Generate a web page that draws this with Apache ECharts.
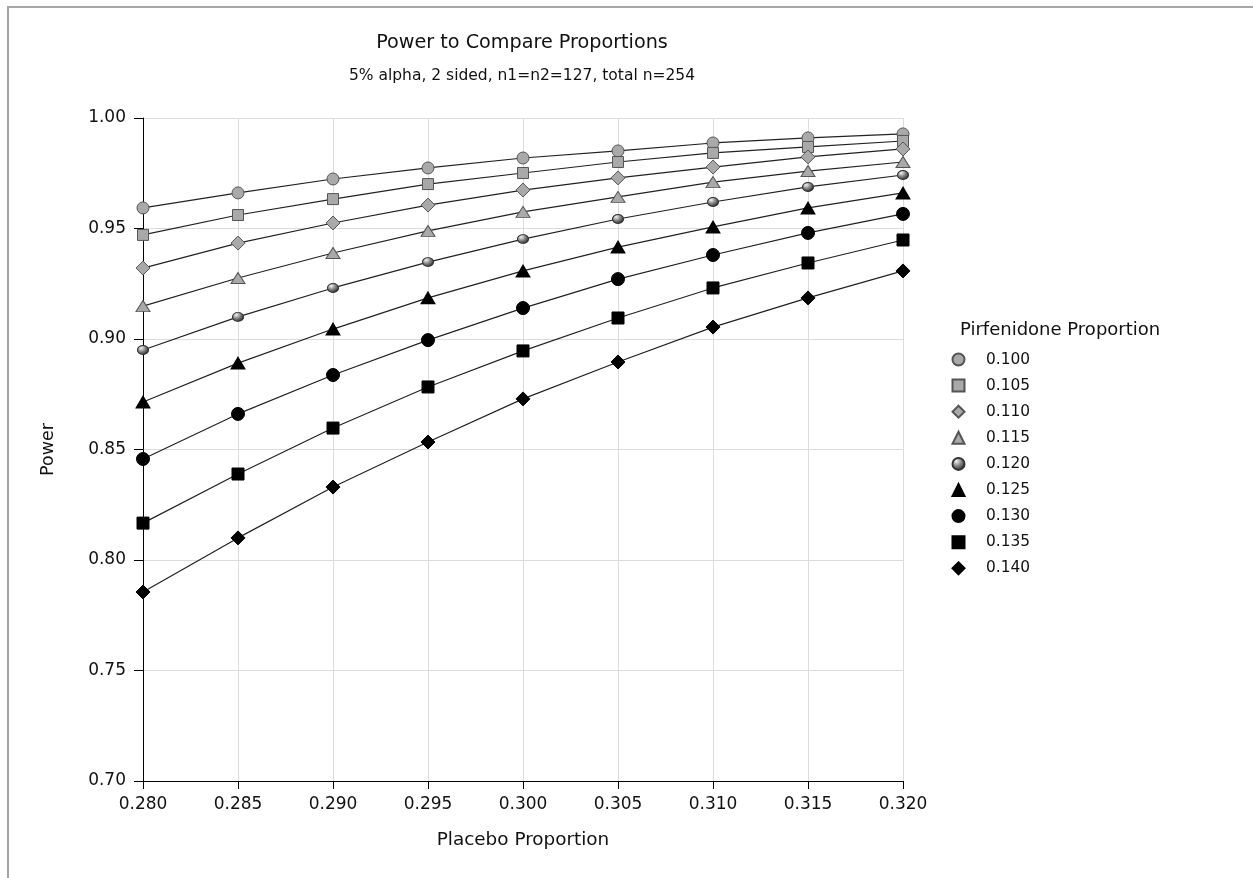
<!DOCTYPE html>
<html>
<head>
<meta charset="utf-8">
<title>Power to Compare Proportions</title>
<script src="https://cdn.jsdelivr.net/npm/echarts@6/dist/echarts.min.js"></script>
<style>
  html, body {
    margin: 0;
    padding: 0;
    background: #fff;
  }
  #frame {
    position: absolute;
    left: 7px;
    top: 6px;
    width: 1246px;
    height: 872px;
    border-left: 2px solid #a6a6a6;
    border-top: 2px solid #a6a6a6;
  }
  #chart {
    position: absolute;
    left: 0;
    top: 0;
    width: 1253px;
    height: 878px;
  }
</style>
</head>
<body>
<div id="frame"></div>
<div id="chart"></div>
<script>
// placebo proportion (x axis)
const placebo = [0.280, 0.285, 0.290, 0.295, 0.300, 0.305, 0.310, 0.315, 0.320];

// one power curve per pirfenidone proportion
const pirfenidone = ['0.100', '0.105', '0.110', '0.115', '0.120', '0.125', '0.130', '0.135', '0.140'];

const power100 = [0.9593, 0.9661, 0.9724, 0.9774, 0.9819, 0.9851, 0.9887, 0.9910, 0.9928];
const power105 = [0.9471, 0.9561, 0.9633, 0.9701, 0.9751, 0.9801, 0.9842, 0.9869, 0.9896];
const power110 = [0.9321, 0.9434, 0.9525, 0.9606, 0.9674, 0.9729, 0.9778, 0.9824, 0.9860];
const power115 = [0.9149, 0.9276, 0.9389, 0.9489, 0.9575, 0.9643, 0.9710, 0.9760, 0.9801];
const power120 = [0.8950, 0.9100, 0.9231, 0.9348, 0.9452, 0.9543, 0.9620, 0.9688, 0.9742];
const power125 = [0.8715, 0.8891, 0.9045, 0.9186, 0.9308, 0.9416, 0.9507, 0.9593, 0.9661];
const power130 = [0.8457, 0.8661, 0.8837, 0.8995, 0.9140, 0.9271, 0.9380, 0.9480, 0.9566];
const power135 = [0.8167, 0.8389, 0.8597, 0.8783, 0.8946, 0.9095, 0.9231, 0.9344, 0.9448];
const power140 = [0.7855, 0.8100, 0.8330, 0.8534, 0.8729, 0.8896, 0.9054, 0.9186, 0.9308];

const yTicks = [0.70, 0.75, 0.80, 0.85, 0.90, 0.95, 1.00];

const powers = [power100, power105, power110, power115, power120, power125, power130, power135, power140];

var FONT = '"DejaVu Sans", "Liberation Sans", sans-serif';
var grey = '#a9a9a9';
var sphere = new echarts.graphic.RadialGradient(0.35, 0.3, 0.75, [
  { offset: 0, color: '#f4f4f4' },
  { offset: 0.45, color: '#8a8a8a' },
  { offset: 1, color: '#1e1e1e' }
]);

// marker look per curve
var marks = [
  { symbol: 'circle', size: 12, fill: grey, border: '#555' },
  { symbol: 'rect', size: 11, fill: grey, border: '#555' },
  { symbol: 'diamond', size: 14, fill: grey, border: '#555' },
  { symbol: 'triangle', size: [14, 11], fill: grey, border: '#555' },
  { symbol: 'circle', size: [11, 9], fill: sphere, border: '#333' },
  { symbol: 'triangle', size: [14, 12], fill: '#000', border: '#000' },
  { symbol: 'circle', size: 13, fill: '#000', border: '#000' },
  { symbol: 'rect', size: 12, fill: '#000', border: '#000' },
  { symbol: 'diamond', size: 14, fill: '#000', border: '#000' }
];

var seriesList = pirfenidone.map(function (name, i) {
  return {
    name: name,
    type: 'line',
    data: placebo.map(function (x, j) { return [x, powers[i][j]]; }),
    symbol: marks[i].symbol,
    symbolSize: marks[i].size,
    showAllSymbol: true,
    lineStyle: { color: '#222', width: 1.2 },
    itemStyle: {
      color: marks[i].fill,
      borderColor: marks[i].border,
      borderWidth: 1,
      opacity: 1
    },
    emphasis: { disabled: true },
    z: 2 + i
  };
});

var chartDom = document.getElementById('chart');
var myChart = echarts.init(chartDom);
var option;

option = {
  animation: false,
  backgroundColor: 'transparent',
  title: [
    {
      text: 'Power to Compare Proportions',
      left: 522,
      top: 33,
      padding: 0,
      textAlign: 'center',
      textStyle: { fontFamily: FONT, fontSize: 19.2, lineHeight: 21, fontWeight: 'normal', color: '#111' }
    },
    {
      text: '5% alpha, 2 sided, n1=n2=127, total n=254',
      left: 522,
      top: 67,
      padding: 0,
      textAlign: 'center',
      textStyle: { fontFamily: FONT, fontSize: 15.5, lineHeight: 18, fontWeight: 'normal', color: '#111' }
    },
    {
      text: 'Pirfenidone Proportion',
      left: 960,
      top: 320,
      padding: 0,
      textStyle: { fontFamily: FONT, fontSize: 18, lineHeight: 20, fontWeight: 'normal', color: '#111' }
    }
  ],
  legend: {
    orient: 'vertical',
    left: 946.5,
    top: 347,
    itemWidth: 12,
    itemHeight: 12,
    itemGap: 11.1,
    textStyle: { fontFamily: FONT, fontSize: 15.4, lineHeight: 14, color: '#111', padding: [0, 0, 0, 16.5] },
    data: pirfenidone.map(function (n, i) {
      return { name: n, icon: marks[i].symbol };
    })
  },
  grid: {
    left: 143,
    right: 350,
    top: 118,
    bottom: 97,
    containLabel: false
  },
  xAxis: {
    type: 'value',
    min: placebo[0],
    max: placebo[placebo.length - 1],
    interval: 0.005,
    name: 'Placebo Proportion',
    nameLocation: 'middle',
    nameGap: 50,
    nameTextStyle: { fontFamily: FONT, fontSize: 18.4, color: '#111' },
    axisLine: { show: true, onZero: false, lineStyle: { color: '#000', width: 1 } },
    axisTick: { show: true, length: 8, lineStyle: { color: '#000' } },
    axisLabel: {
      fontFamily: FONT,
      fontSize: 17,
      color: '#111',
      margin: 15,
      formatter: function (v) { return v.toFixed(3); }
    },
    splitLine: { show: true, lineStyle: { color: '#dcdcdc', width: 1 } }
  },
  yAxis: {
    type: 'value',
    min: yTicks[0],
    max: yTicks[yTicks.length - 1],
    interval: 0.05,
    name: 'Power',
    nameLocation: 'middle',
    nameGap: 86,
    nameRotate: 90,
    nameTextStyle: { fontFamily: FONT, fontSize: 17.5, color: '#111' },
    axisLine: { show: true, onZero: false, lineStyle: { color: '#000', width: 1 } },
    axisTick: { show: true, length: 9, lineStyle: { color: '#000' } },
    axisLabel: {
      fontFamily: FONT,
      fontSize: 17,
      color: '#111',
      margin: 17,
      formatter: function (v) { return v.toFixed(2); }
    },
    splitLine: { show: true, lineStyle: { color: '#dcdcdc', width: 1 } }
  },
  series: seriesList
};

option && myChart.setOption(option);
</script>
</body>
</html>
